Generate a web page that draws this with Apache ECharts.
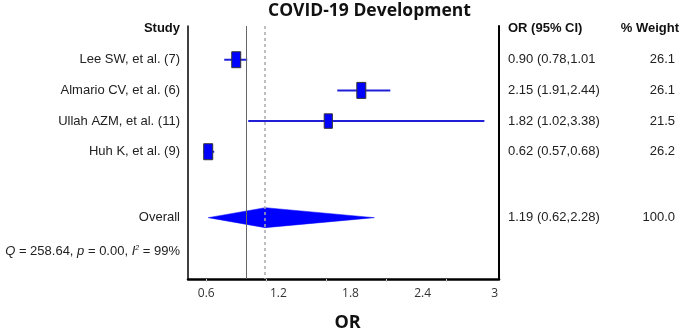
<!DOCTYPE html>
<html lang="en" style="height: 100%">
<head>
<meta charset="utf-8">
<title>COVID-19 Development forest plot</title>
</head>
<body style="height: 100%; margin: 0">
<div id="container" style="width: 683px; height: 334px"></div>

<script type="text/javascript" src="https://cdn.jsdelivr.net/npm/echarts/dist/echarts.min.js"></script>

<script type="text/javascript">
var studies = ['Lee SW, et al. (7)', 'Almario CV, et al. (6)', 'Ullah AZM, et al. (11)', 'Huh K, et al. (9)'];
var orEst = [0.90, 2.15, 1.82, 0.62];
var ciLow = [0.78, 1.91, 1.02, 0.57];
var ciHigh = [1.01, 2.44, 3.38, 0.68];
var ciText = ['0.90 (0.78,1.01', '2.15 (1.91,2.44)', '1.82 (1.02,3.38)', '0.62 (0.57,0.68)'];
var weights = [26.1, 26.1, 21.5, 26.2];

var overallLabel = 'Overall';
var overallEst = 1.19;
var overallLow = 0.62;
var overallHigh = 2.28;
var overallText = '1.19 (0.62,2.28)';
var overallWeight = 100.0;

var hetQ = '258.64';
var hetP = '0.00';
var hetI2 = '99%';

var tickValues = [0.6, 1.2, 1.8, 2.4, 3];

// row layout (value-axis rows, top to bottom)
var headerRow = -1.02;
var overallRow = studies.length + 1.15;
var statRow = studies.length + 2.25;

var dom = document.getElementById('container');
var myChart = echarts.init(dom);

var studyData = studies.map(function (s, i) {
  return [orEst[i], ciLow[i], ciHigh[i], i, weights[i]];
});

var leftText = {};
leftText[headerRow] = '{h|Study}';
studies.forEach(function (s, i) { leftText[i] = s; });
leftText[overallRow] = overallLabel;
leftText[statRow] = '{i|Q} = ' + hetQ + ', {i|p} = ' + hetP + ', {i|I}{s|2} = ' + hetI2;

var rightText = {};
rightText[headerRow] = '{ha|OR (95% CI)}{hb|% Weight}';
studies.forEach(function (s, i) {
  rightText[i] = '{a|' + ciText[i] + '}{b|' + weights[i].toFixed(1) + '}';
});
rightText[overallRow] = '{a|' + overallText + '}{b|' + overallWeight.toFixed(1) + '}';

var textFont = '"Liberation Sans", Arial, sans-serif';

var option = {
  animation: false,
  title: {
    text: 'COVID-19 Development',
    left: 268,
    top: 1,
    padding: 0,
    textStyle: {
      fontFamily: '"Open Sans", sans-serif',
      fontWeight: 'bold',
      fontSize: 17.5,
      lineHeight: 20,
      color: '#111'
    }
  },
  grid: {left: 188, right: 184, top: 26, bottom: 55, outerBoundsMode: 'none'},
  xAxis: [
    {
      type: 'value',
      min: 0.418,
      max: 3.526,
      position: 'bottom',
      name: 'OR',
      nameLocation: 'middle',
      nameGap: 35,
      nameTextStyle: {
        fontFamily: '"Open Sans", sans-serif',
        fontWeight: 'bold',
        fontSize: 18,
        color: '#111',
        padding: [0, 0, 0, 8]
      },
      axisLine: {onZero: false, lineStyle: {color: '#000', width: 2.5}},
      axisTick: {show: true, customValues: tickValues, length: 3, lineStyle: {color: '#ccc'}},
      axisLabel: {show: false},
      splitLine: {show: false}
    },
    {
      // tick labels as printed in the source figure
      type: 'value',
      min: 0.448,
      max: 3.036,
      position: 'bottom',
      axisLine: {show: false, onZero: false},
      axisTick: {show: false},
      axisLabel: {
        customValues: tickValues,
        margin: 9,
        fontFamily: '"Open Sans", sans-serif',
        fontSize: 12,
        color: '#333'
      },
      splitLine: {show: false}
    }
  ],
  yAxis: [
    {
      type: 'value',
      min: -1.1,
      max: 7.15,
      inverse: true,
      position: 'left',
      axisLine: {show: true, onZero: false, lineStyle: {color: '#000', width: 1.5}},
      axisTick: {show: false},
      splitLine: {show: false},
      axisLabel: {
        customValues: Object.keys(leftText).map(Number),
        margin: 8,
        fontFamily: textFont,
        fontSize: 13,
        color: '#222',
        formatter: function (v) { return leftText[v] || ''; },
        rich: {
          h: {fontFamily: textFont, fontSize: 13, fontWeight: 'bold', color: '#111'},
          i: {fontFamily: textFont, fontSize: 13, fontStyle: 'italic', color: '#222'},
          s: {fontFamily: textFont, fontSize: 7, fontStyle: 'italic', color: '#222', verticalAlign: 'top', padding: [0, 0, 7, 0]}
        }
      }
    },
    {
      type: 'value',
      min: -1.1,
      max: 7.15,
      inverse: true,
      position: 'right',
      axisLine: {show: true, onZero: false, lineStyle: {color: '#000', width: 2}},
      axisTick: {show: false},
      splitLine: {show: false},
      axisLabel: {
        customValues: Object.keys(rightText).map(Number),
        margin: 9,
        formatter: function (v) { return rightText[v] || ''; },
        rich: {
          a: {fontFamily: textFont, fontSize: 13, color: '#222', width: 117, align: 'left'},
          b: {fontFamily: textFont, fontSize: 13, color: '#222', width: 50, align: 'right'},
          ha: {fontFamily: textFont, fontSize: 13, fontWeight: 'bold', color: '#111', width: 109, align: 'left'},
          hb: {fontFamily: textFont, fontSize: 13, fontWeight: 'bold', color: '#111', width: 62, align: 'right'}
        }
      }
    }
  ],
  series: [
    {
      // reference lines: null effect and pooled estimate
      type: 'line',
      data: [],
      z: 1,
      markLine: {
        silent: true,
        symbol: 'none',
        label: {show: false},
        data: [
          {xAxis: 1, lineStyle: {color: '#666', width: 1, type: 'solid'}},
          {xAxis: overallEst, lineStyle: {color: '#aaa', width: 1.5, type: [3, 3]}}
        ]
      }
    },
    {
      type: 'custom',
      z: 3,
      data: studyData,
      encode: {x: [0, 1, 2], y: 3},
      renderItem: function (params, api) {
        var y = api.value(3);
        var p = api.coord([api.value(0), y]);
        var lo = api.coord([api.value(1), y]);
        var hi = api.coord([api.value(2), y]);
        var s = Math.sqrt(api.value(4) / 26.2);
        var w = 9 * s, h = 16 * s;
        return {
          type: 'group',
          children: [
            {type: 'line', shape: {x1: lo[0], y1: lo[1], x2: hi[0], y2: hi[1]},
             style: {stroke: '#1f1fd8', lineWidth: 2}},
            {type: 'rect', shape: {x: p[0] - w / 2, y: p[1] - h / 2, width: w, height: h},
             style: {fill: '#0000ff', stroke: '#333', lineWidth: 1}}
          ]
        };
      }
    },
    {
      type: 'custom',
      z: 3,
      data: [[overallEst, overallLow, overallHigh, overallRow]],
      encode: {x: [0, 1, 2], y: 3},
      renderItem: function (params, api) {
        var y = api.value(3);
        var c = api.coord([api.value(0), y]);
        var lo = api.coord([api.value(1), y]);
        var hi = api.coord([api.value(2), y]);
        var hh = 10;
        return {
          type: 'polygon',
          shape: {points: [[lo[0], c[1]], [c[0], c[1] - hh], [hi[0], c[1]], [c[0], c[1] + hh]]},
          style: {fill: '#0000ff', stroke: '#0000ff', lineWidth: 0.5}
        };
      }
    }
  ]
};

myChart.setOption(option);
window.addEventListener('resize', myChart.resize);
</script>
</body>
</html>
